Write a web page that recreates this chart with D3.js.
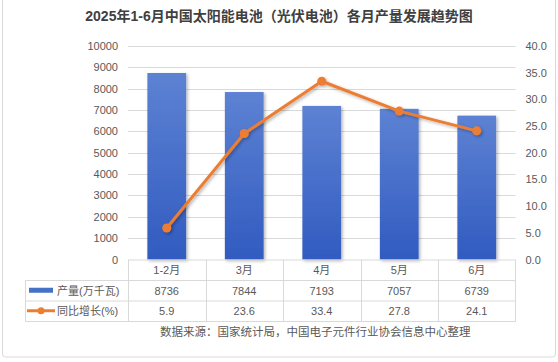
<!DOCTYPE html>
<html>
<head>
<meta charset="utf-8">
<script src="https://cdn.jsdelivr.net/npm/d3@7"></script>
<style>
body { margin: 0; background: #fff; }
svg text { font-family: "Liberation Sans", "Noto Sans CJK SC", sans-serif; }
</style>
</head>
<body>
<div id="chart"></div>
<script>
var months = ["1-2月", "3月", "4月", "5月", "6月"];
var output = [8736, 7844, 7193, 7057, 6739];
var growth = [5.9, 23.6, 33.4, 27.8, 24.1];
var leftTicks = [0, 1000, 2000, 3000, 4000, 5000, 6000, 7000, 8000, 9000, 10000];
var rightTicks = [0, 5, 10, 15, 20, 25, 30, 35, 40];
var seriesNames = ["产量(万千瓦)", "同比增长(%)"];

var W = 558, H = 362;
var plotLeft = 128, plotRight = 515.5, plotTop = 46, plotBottom = 259.5;
var rowH = 20.5;

var svg = d3.select("#chart").append("svg")
    .attr("width", W)
    .attr("height", H);

var defs = svg.append("defs");
var grad = defs.append("linearGradient")
    .attr("id", "barGrad")
    .attr("x1", 0).attr("y1", 0).attr("x2", 0).attr("y2", 1);
grad.append("stop").attr("offset", "0%").attr("stop-color", "#5d82d3");
grad.append("stop").attr("offset", "100%").attr("stop-color", "#315bc0");

var shadow = defs.append("filter").attr("id", "shadow")
    .attr("x", "-20%").attr("y", "-20%").attr("width", "150%").attr("height", "150%");
shadow.append("feDropShadow")
    .attr("dx", 1.5).attr("dy", 1.5).attr("stdDeviation", 1.5)
    .attr("flood-color", "#000").attr("flood-opacity", 0.3);

// outer frame
svg.append("rect")
    .attr("x", 2.5).attr("y", -3)
    .attr("width", 553).attr("height", 360)
    .attr("rx", 3)
    .attr("fill", "none")
    .attr("stroke", "#d9d9d9");

// title
svg.append("text")
    .attr("x", W / 2).attr("y", 21)
    .attr("text-anchor", "middle")
    .attr("font-size", "14px")
    .attr("font-weight", "bold")
    .attr("fill", "#404040")
    .text("2025年1-6月中国太阳能电池（光伏电池）各月产量发展趋势图");

var x = d3.scaleBand().domain(months).range([plotLeft, plotRight]).paddingInner(0).paddingOuter(0);
var y = d3.scaleLinear().domain([0, 10000]).range([plotBottom, plotTop]);
var y2 = d3.scaleLinear().domain([0, 40]).range([plotBottom, plotTop]);

// gridlines
svg.append("g")
    .selectAll("line")
    .data(leftTicks.slice(1))
    .enter()
    .append("line")
    .attr("x1", plotLeft).attr("x2", plotRight)
    .attr("y1", function(d) { return Math.round(y(d)) + 0.5; })
    .attr("y2", function(d) { return Math.round(y(d)) + 0.5; })
    .attr("stroke", "#d9d9d9");

// left axis
var leftAxis = svg.append("g")
    .attr("transform", "translate(" + plotLeft + ",0)")
    .call(d3.axisLeft(y).tickValues(leftTicks).tickSize(0).tickPadding(10)
        .tickFormat(d3.format("d")));
leftAxis.select(".domain").remove();
leftAxis.selectAll("text").attr("font-size", "11px").attr("fill", "#595959");

// right axis
var rightAxis = svg.append("g")
    .attr("transform", "translate(" + plotRight + ",0)")
    .call(d3.axisRight(y2).tickValues(rightTicks).tickSize(0).tickPadding(10)
        .tickFormat(d3.format(".1f")));
rightAxis.select(".domain").remove();
rightAxis.selectAll("text").attr("font-size", "11px").attr("fill", "#595959");

// bars
var bw = x.bandwidth() * 0.5;
svg.append("g")
    .selectAll("rect")
    .data(output)
    .enter()
    .append("rect")
    .attr("x", function(d, i) { return x(months[i]) + (x.bandwidth() - bw) / 2; })
    .attr("y", function(d) { return y(d); })
    .attr("width", bw)
    .attr("height", function(d) { return plotBottom - y(d); })
    .attr("fill", "url(#barGrad)")
    .attr("filter", "url(#shadow)");

// line
var line = d3.line()
    .x(function(d, i) { return x(months[i]) + x.bandwidth() / 2; })
    .y(function(d) { return y2(d); });

var lineG = svg.append("g").attr("filter", "url(#shadow)");
lineG.append("path")
    .datum(growth)
    .attr("d", line)
    .attr("fill", "none")
    .attr("stroke", "#ed7d31")
    .attr("stroke-width", 3)
    .attr("stroke-linejoin", "round");
lineG.selectAll("circle")
    .data(growth)
    .enter()
    .append("circle")
    .attr("cx", function(d, i) { return x(months[i]) + x.bandwidth() / 2; })
    .attr("cy", function(d) { return y2(d); })
    .attr("r", 4.5)
    .attr("fill", "#ed7d31");

// data table
var tableLeft = 25.5;
var tb = svg.append("g").attr("stroke", "#d9d9d9").attr("fill", "none");
tb.append("line").attr("x1", plotLeft).attr("x2", plotRight).attr("y1", plotBottom + 0.5).attr("y2", plotBottom + 0.5);
[1, 2, 3].forEach(function(r) {
    tb.append("line")
        .attr("x1", tableLeft).attr("x2", plotRight)
        .attr("y1", plotBottom + 0.5 + r * rowH).attr("y2", plotBottom + 0.5 + r * rowH);
});
tb.append("line").attr("x1", tableLeft).attr("x2", tableLeft)
    .attr("y1", plotBottom + 0.5 + rowH).attr("y2", plotBottom + 0.5 + 3 * rowH);
months.forEach(function(m) {
    tb.append("line").attr("x1", Math.round(x(m)) + 0.5).attr("x2", Math.round(x(m)) + 0.5)
        .attr("y1", plotBottom + 0.5).attr("y2", plotBottom + 0.5 + 3 * rowH);
});
tb.append("line").attr("x1", plotRight).attr("x2", plotRight)
    .attr("y1", plotBottom + 0.5).attr("y2", plotBottom + 0.5 + 3 * rowH);

var rows = [months, output, growth.map(function(d) { return d.toFixed(1); })];
rows.forEach(function(row, r) {
    svg.append("g")
        .selectAll("text")
        .data(row)
        .enter()
        .append("text")
        .attr("x", function(d, i) { return x(months[i]) + x.bandwidth() / 2; })
        .attr("y", plotBottom + r * rowH + rowH / 2 + 4.5)
        .attr("text-anchor", "middle")
        .attr("font-size", "11px")
        .attr("fill", "#595959")
        .text(function(d) { return d; });
});

// legend keys in table
var ly1 = plotBottom + rowH * 1.5;
svg.append("rect")
    .attr("x", 29).attr("y", ly1 - 2.5)
    .attr("width", 24).attr("height", 5)
    .attr("fill", "#4472c4");
var ly2 = plotBottom + rowH * 2.5;
svg.append("line")
    .attr("x1", 27).attr("x2", 55).attr("y1", ly2).attr("y2", ly2)
    .attr("stroke", "#ed7d31").attr("stroke-width", 3);
svg.append("circle").attr("cx", 41).attr("cy", ly2).attr("r", 3.5).attr("fill", "#ed7d31");

seriesNames.forEach(function(name, i) {
    svg.append("text")
        .attr("x", 57)
        .attr("y", plotBottom + rowH * (1.5 + i) + 4.5)
        .attr("font-size", "11px")
        .attr("fill", "#595959")
        .text(name);
});

// source note
svg.append("text")
    .attr("x", 160).attr("y", 336)
    .attr("font-size", "11.5px")
    .attr("fill", "#595959")
    .text("数据来源：国家统计局，中国电子元件行业协会信息中心整理");
</script>
</body>
</html>
